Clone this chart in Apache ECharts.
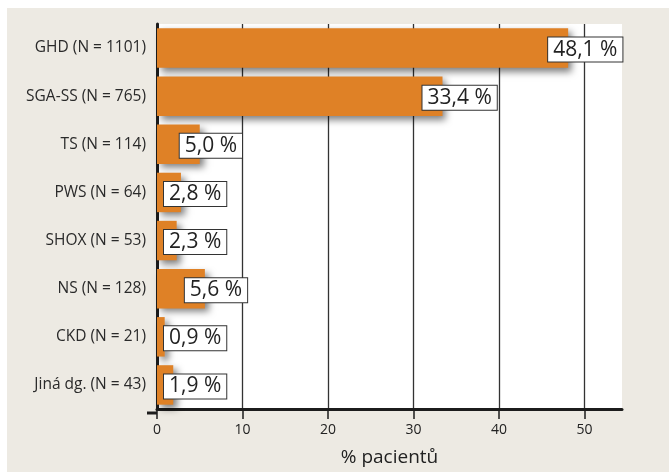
<!DOCTYPE html>
<html>
<head>
<meta charset="utf-8">
<script src="https://cdn.jsdelivr.net/npm/echarts@6/dist/echarts.min.js"></script>
<style>
  html, body { margin: 0; padding: 0; background: #ffffff; }
  #chart { width: 669px; height: 472px; }
</style>
</head>
<body>
<div id="chart"></div>
<script>
// Diagnoses with group sizes, top to bottom
const categories = [
  'GHD (N = 1101)',
  'SGA-SS (N = 765)',
  'TS (N = 114)',
  'PWS (N = 64)',
  'SHOX (N = 53)',
  'NS (N = 128)',
  'CKD (N = 21)',
  'Jiná dg. (N = 43)'
];
// Share of patients, %
const shares = [48.1, 33.4, 5.0, 2.8, 2.3, 5.6, 0.9, 1.9];
// Tick values of the percentage axis
const xTicks = [0, 10, 20, 30, 40, 50];

const fmtPct = v => v.toFixed(1).replace('.', ',') + ' %';

const chart = echarts.init(document.getElementById('chart'), null, { renderer: 'canvas' });

const GRID = { left: 157, top: 24, right: 47, bottom: 59 };

chart.setOption({
  animation: false,
  backgroundColor: '#ffffff',
  textStyle: { fontFamily: '"Open Sans", "Noto Sans", sans-serif' },
  graphic: [
    {
      type: 'rect', z: -10, silent: true,
      shape: { x: 7, y: 8, width: 662, height: 464 },
      style: { fill: '#edeae3' }
    },
    {
      // short stub of the baseline to the left of zero
      type: 'line', z: 10, silent: true,
      shape: { x1: 147, y1: 472 - GRID.bottom, x2: GRID.left, y2: 472 - GRID.bottom },
      style: { stroke: '#1c1c1c', lineWidth: 3 }
    }
  ],
  grid: {
    left: GRID.left, top: GRID.top, right: GRID.right, bottom: GRID.bottom,
    show: true, backgroundColor: '#ffffff', borderWidth: 0
  },
  xAxis: {
    type: 'value',
    min: 0,
    max: 54.4,
    interval: 10,
    name: '% pacientů',
    nameLocation: 'middle',
    nameGap: 39,
    nameTextStyle: { fontSize: 19, color: '#222222' },
    axisLine: { show: true, lineStyle: { color: '#1c1c1c', width: 3 } },
    axisTick: { show: true, length: 10, customValues: xTicks, lineStyle: { color: '#1c1c1c', width: 1.5 } },
    axisLabel: { customValues: xTicks, margin: 14, fontSize: 14, color: '#222222' },
    splitLine: { show: true, lineStyle: { color: '#333333', width: 1.3 } }
  },
  yAxis: {
    type: 'category',
    inverse: true,
    data: categories,
    axisLine: { show: true, lineStyle: { color: '#1c1c1c', width: 3 } },
    axisTick: { show: false },
    axisLabel: { margin: 11, fontSize: 15.5, color: '#2a2a2a' },
    splitLine: { show: false }
  },
  series: [
    {
      type: 'bar',
      data: shares,
      barCategoryGap: '18%',
      itemStyle: {
        color: '#df8126',
        shadowBlur: 7,
        shadowOffsetX: 4,
        shadowOffsetY: 4,
        shadowColor: 'rgba(0,0,0,0.5)'
      },
      z: 2
    },
    {
      type: 'custom',
      z: 5,
      data: shares.map((v, i) => [v, i]),
      encode: { x: 0, y: 1 },
      renderItem: function (params, api) {
        const v = api.value(0);
        const c = api.value(1);
        const end = api.coord([v, c]);
        const zero = api.coord([0, c]);
        const left = Math.max(end[0] - 20, zero[0] + 7);
        return {
          type: 'text',
          x: left,
          y: end[1] + 1.5,
          style: {
            text: fmtPct(v),
            font: '21px "Open Sans", "Noto Sans", sans-serif',
            fill: '#222222',
            align: 'left',
            verticalAlign: 'middle',
            lineHeight: 21,
            backgroundColor: '#ffffff',
            borderColor: '#333333',
            borderWidth: 1,
            padding: [2, 5, 1, 5]
          }
        };
      }
    }
  ]
});
</script>
</body>
</html>
